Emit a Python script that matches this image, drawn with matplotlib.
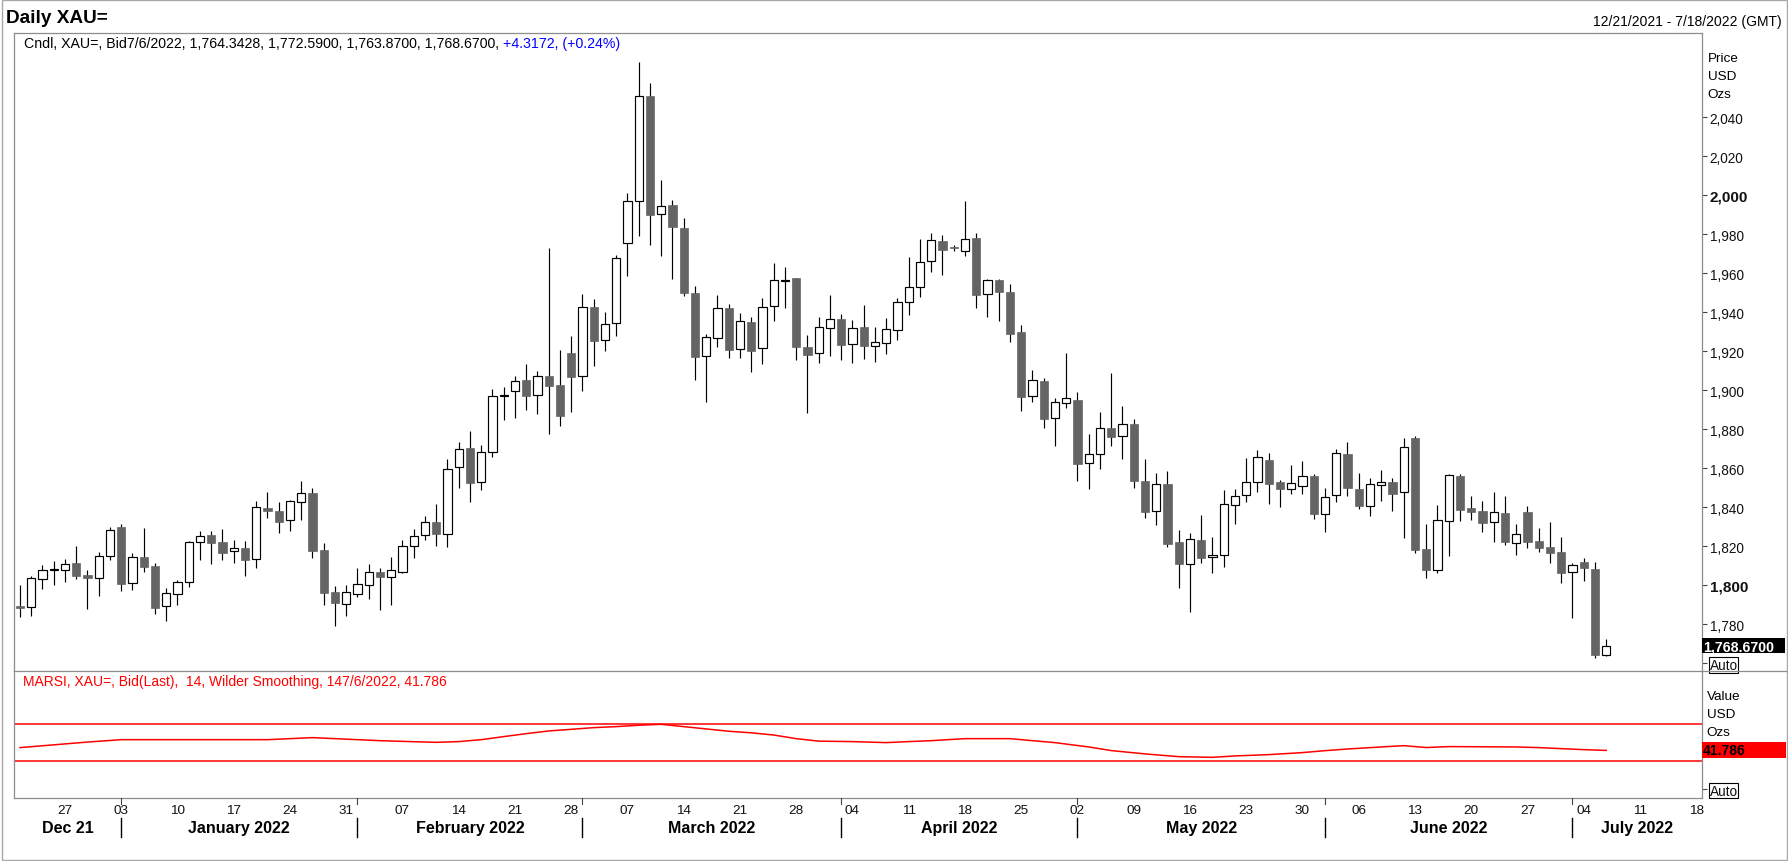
import matplotlib
matplotlib.use("Agg")
import matplotlib.pyplot as plt
import matplotlib.transforms as mtransforms
from matplotlib.patches import Rectangle
from matplotlib.lines import Line2D
import numpy as np
import pandas as pd

plt.rcParams["font.family"] = ["Liberation Sans", "DejaVu Sans"]

# trading days shown on the chart (Dec 21 2021 .. Jul 6 2022)
dates = pd.bdate_range("2021-12-21", "2022-07-06")

opens = [
    1789.6, 1788.7, 1803.1, 1808.0, 1807.7, 1811.5, 1805.3, 1803.6, 1814.9, 1829.9,
    1801.0, 1814.5, 1809.9, 1789.2, 1795.4, 1801.5, 1822.1, 1825.8, 1822.2, 1817.4,
    1819.1, 1813.3, 1839.5, 1838.1, 1833.7, 1842.6, 1847.4, 1818.1, 1796.6, 1790.6,
    1795.7, 1800.3, 1806.7, 1804.4, 1806.6, 1820.0, 1825.8, 1832.3, 1826.1, 1860.5,
    1870.2, 1852.8, 1868.2, 1897.0, 1899.4, 1905.1, 1897.4, 1907.2, 1902.7, 1919.1,
    1907.2, 1942.6, 1925.6, 1934.3, 1975.3, 1996.9, 2050.8, 1990.3, 1994.9, 1983.2,
    1949.9, 1917.4, 1926.6, 1942.0, 1921.0, 1935.0, 1921.5, 1943.1, 1956.2, 1957.6,
    1922.2, 1919.0, 1931.8, 1936.4, 1923.6, 1932.5, 1922.6, 1924.1, 1930.8, 1945.1,
    1952.8, 1966.1, 1976.5, 1973.2, 1971.3, 1977.9, 1949.2, 1956.5, 1950.3, 1929.7,
    1896.9, 1904.6, 1885.6, 1893.3, 1895.0, 1862.5, 1867.2, 1880.6, 1876.4, 1882.7,
    1853.5, 1837.9, 1851.9, 1822.0, 1810.7, 1823.0, 1814.3, 1815.7, 1841.0, 1846.1,
    1852.8, 1864.2, 1853.0, 1849.2, 1850.7, 1856.0, 1836.4, 1846.1, 1867.5, 1849.4,
    1840.5, 1851.3, 1853.0, 1847.6, 1875.5, 1818.6, 1808.0, 1832.8, 1856.0, 1839.6,
    1838.1, 1832.3, 1837.1, 1821.5, 1837.6, 1822.7, 1819.6, 1817.1, 1806.6, 1811.9,
    1808.4, 1764.3428,
]
highs = [
    1800.2, 1804.6, 1810.4, 1812.5, 1813.5, 1820.2, 1807.9, 1816.9, 1829.7, 1831.5,
    1816.6, 1829.4, 1811.5, 1798.8, 1802.7, 1822.9, 1827.9, 1827.9, 1828.9, 1823.2,
    1822.7, 1843.2, 1847.9, 1842.7, 1843.8, 1853.5, 1849.9, 1821.7, 1799.7, 1800.2,
    1808.9, 1810.9, 1809.1, 1814.4, 1823.2, 1828.9, 1835.6, 1841.7, 1864.8, 1873.3,
    1879.1, 1871.8, 1900.5, 1901.7, 1907.3, 1913.5, 1909.7, 1972.8, 1920.7, 1927.8,
    1949.2, 1946.6, 1940.0, 1969.2, 2001.2, 2068.4, 2057.4, 2007.9, 1997.6, 1988.4,
    1953.3, 1928.7, 1948.9, 1944.1, 1939.4, 1937.4, 1947.3, 1965.3, 1963.2, 1957.6,
    1928.4, 1937.4, 1948.9, 1939.1, 1936.1, 1943.7, 1932.5, 1936.9, 1947.3, 1968.4,
    1977.6, 1980.7, 1979.6, 1974.5, 1997.1, 1980.7, 1957.1, 1957.1, 1954.4, 1933.5,
    1910.2, 1906.1, 1895.9, 1919.1, 1899.1, 1877.6, 1888.7, 1908.9, 1891.9, 1885.3,
    1864.8, 1857.6, 1858.6, 1828.4, 1826.8, 1836.0, 1824.8, 1848.9, 1849.4, 1865.2,
    1869.4, 1867.8, 1854.0, 1861.7, 1863.7, 1857.1, 1849.9, 1869.9, 1873.5, 1857.6,
    1855.0, 1859.1, 1855.0, 1875.5, 1876.6, 1831.4, 1841.2, 1857.1, 1857.1, 1845.8,
    1843.2, 1847.8, 1845.8, 1831.4, 1840.7, 1829.4, 1832.5, 1824.8, 1811.3, 1814.0,
    1812.0, 1772.59,
]
lows = [
    1783.9, 1784.4, 1798.3, 1800.3, 1801.9, 1803.2, 1788.0, 1794.7, 1813.2, 1797.3,
    1797.8, 1807.0, 1785.3, 1781.9, 1790.1, 1799.3, 1813.2, 1811.1, 1813.2, 1811.6,
    1805.0, 1809.1, 1834.7, 1827.0, 1828.0, 1833.7, 1814.0, 1790.1, 1779.3, 1784.4,
    1794.2, 1793.0, 1787.4, 1790.1, 1806.3, 1814.2, 1823.4, 1820.3, 1819.8, 1849.7,
    1842.9, 1849.0, 1866.0, 1884.8, 1885.8, 1890.1, 1888.0, 1877.8, 1881.9, 1889.0,
    1899.6, 1912.6, 1920.3, 1928.0, 1958.8, 1979.3, 1974.7, 1969.0, 1957.2, 1948.5,
    1905.4, 1894.2, 1922.4, 1916.7, 1916.7, 1909.5, 1913.7, 1935.7, 1942.4, 1915.7,
    1888.5, 1914.2, 1917.8, 1915.7, 1914.0, 1916.1, 1914.3, 1918.8, 1926.0, 1938.8,
    1948.0, 1960.8, 1959.1, 1971.6, 1969.1, 1942.4, 1937.8, 1935.7, 1925.0, 1889.6,
    1894.2, 1880.5, 1871.3, 1891.1, 1853.7, 1849.5, 1859.6, 1871.6, 1864.9, 1850.0,
    1834.7, 1831.1, 1819.8, 1798.8, 1786.5, 1811.6, 1806.5, 1809.6, 1831.6, 1842.9,
    1848.0, 1841.9, 1840.3, 1847.0, 1846.8, 1834.2, 1827.5, 1842.9, 1845.9, 1839.3,
    1835.7, 1843.4, 1838.3, 1824.4, 1816.5, 1803.9, 1806.3, 1815.2, 1833.1, 1833.6,
    1827.5, 1822.4, 1820.8, 1815.7, 1819.3, 1817.2, 1811.6, 1801.4, 1783.4, 1802.4,
    1762.9, 1763.87,
]
closes = [
    1788.2, 1803.8, 1807.7, 1808.4, 1810.8, 1805.0, 1803.6, 1814.9, 1828.4, 1800.9,
    1814.4, 1809.6, 1788.5, 1795.9, 1801.5, 1822.2, 1825.1, 1821.9, 1816.8, 1819.1,
    1813.2, 1840.0, 1837.9, 1832.6, 1843.1, 1847.2, 1817.8, 1796.1, 1790.9, 1796.4,
    1800.5, 1806.7, 1804.4, 1807.9, 1820.0, 1825.1, 1832.3, 1826.5, 1859.4, 1869.7,
    1852.6, 1868.2, 1896.9, 1897.4, 1904.9, 1897.2, 1907.2, 1902.4, 1887.0, 1907.0,
    1942.6, 1925.5, 1934.2, 1967.6, 1996.9, 2050.8, 1990.1, 1994.7, 1983.9, 1950.1,
    1917.2, 1927.1, 1942.0, 1920.5, 1935.4, 1920.3, 1942.5, 1956.4, 1956.6, 1922.4,
    1918.2, 1932.3, 1936.4, 1923.4, 1931.8, 1922.9, 1924.6, 1931.3, 1945.1, 1952.8,
    1965.6, 1976.9, 1972.1, 1973.0, 1977.4, 1949.0, 1956.4, 1950.6, 1929.1, 1896.7,
    1905.1, 1885.5, 1893.8, 1895.9, 1862.4, 1867.2, 1880.5, 1876.2, 1882.5, 1853.6,
    1837.8, 1851.8, 1821.3, 1811.1, 1823.6, 1814.2, 1815.4, 1841.5, 1845.6, 1852.8,
    1865.6, 1852.1, 1849.5, 1852.3, 1855.9, 1836.5, 1845.1, 1867.8, 1849.9, 1840.8,
    1851.8, 1852.8, 1847.0, 1870.7, 1818.3, 1808.0, 1833.3, 1856.4, 1838.7, 1837.8,
    1832.1, 1837.4, 1822.4, 1826.1, 1822.4, 1819.3, 1816.7, 1806.5, 1810.2, 1809.0,
    1764.4, 1768.67,
]

# MARSI readings (trading-day index, value)
rsi_idx = [0, 2, 4, 6, 9, 22, 24, 26, 28, 30, 32, 35, 37, 39, 41, 43, 45, 47, 49, 51,
           53, 55, 57, 59, 61, 63, 65, 67, 69, 71, 74, 77, 79, 81, 84, 88, 90, 92, 95,
           97, 100, 103, 106, 108, 111, 114, 116, 118, 121, 123, 125, 127, 133, 135,
           137, 139, 141]
rsi_val = [44.8, 46.8, 48.8, 50.8, 53.4, 53.4, 54.5, 55.6, 54.5, 53.4, 52.3, 51.2, 50.5,
           51.3, 53.4, 56.7, 59.9, 62.8, 64.6, 66.4, 67.5, 69.0, 70.0, 67.5, 65.0, 62.5,
           60.8, 58.4, 54.5, 51.8, 51.3, 50.2, 51.3, 52.3, 54.5, 54.5, 52.3, 50.2, 45.5,
           41.6, 38.0, 35.0, 34.3, 35.8, 37.2, 39.4, 41.5, 43.3, 45.5, 46.9, 44.9, 45.9,
           45.5, 44.8, 43.7, 42.6, 41.786]

price_ticks = [1780, 1800, 1820, 1840, 1860, 1880, 1900, 1920, 1940, 1960, 1980, 2000, 2020, 2040]

W, H = 1788, 862


def fx(px):
    return px / W


def fy(py):
    return 1 - py / H


fig = plt.figure(figsize=(W / 100, H / 100), dpi=100)
fig.patch.set_facecolor("white")

left, right = 13.7, 1701.5
ax = fig.add_axes([fx(left), fy(671.5), fx(right) - fx(left), fy(33.5) - fy(671.5)])
ax2 = fig.add_axes([fx(left), fy(799), fx(right) - fx(left), fy(671.5) - fy(799)])

frame = "#8c8c8c"
n = len(dates)
x = np.arange(n)
o = np.array(opens)
h = np.array(highs)
lo = np.array(lows)
c = np.array(closes)

# candles
ax.vlines(x, lo, h, color="black", lw=0.85, zorder=2)
up = c >= o
bot = np.minimum(o, c)
hgt = np.maximum(np.abs(c - o), 0.5)
ax.bar(x[up], hgt[up], bottom=bot[up], width=0.72, facecolor="white",
       edgecolor="black", lw=0.85, zorder=3)
ax.bar(x[~up], hgt[~up], bottom=bot[~up], width=0.72, facecolor="#646464",
       edgecolor="#646464", lw=0.5, zorder=3)

xmin, xmax = -0.56, 149.47
ax.set_xlim(xmin, xmax)
ax.set_ylim(1756.3, 2083.5)
ax.set_xticks([])
ax.yaxis.tick_right()
ax.set_yticks(price_ticks + [1760])
ax.set_yticklabels([f"{t:,}" for t in price_ticks] + ["Auto"])
ax.tick_params(axis="y", length=4.7 * 0.72, width=0.8, color="#444444", pad=2.4,
               labelsize=9.8, labelcolor="#111111")
for lab, t in zip(ax.get_yticklabels(), price_ticks + [1760]):
    if t in (1800, 2000):
        lab.set_fontweight("bold")
        lab.set_fontsize(11)
    if t == 1760:
        lab.set_bbox(dict(facecolor="white", edgecolor="black", pad=0.6, lw=0.8))
for s in ["top", "left", "right"]:
    ax.spines[s].set_color(frame)
    ax.spines[s].set_linewidth(0.9)
ax.spines["bottom"].set_visible(False)

# RSI panel
ax2.plot(rsi_idx, rsi_val, color="red", lw=1.1)
ax2.axhline(70, color="red", lw=1.1)
ax2.axhline(30, color="red", lw=1.1)
ax2.set_xlim(xmin, xmax)
ax2.set_ylim(-9.7, 128.2)
ax2.set_xticks([])
ax2.yaxis.tick_right()
ax2.set_yticks([0])
ax2.set_yticklabels(["Auto"])
ax2.tick_params(axis="y", length=4.7 * 0.72, width=0.8, color="#444444", pad=2.4,
                labelsize=9.8, labelcolor="#111111")
ax2.get_yticklabels()[0].set_bbox(dict(facecolor="white", edgecolor="black", pad=0.6, lw=0.8))
for s in ["bottom", "left", "right"]:
    ax2.spines[s].set_color(frame)
    ax2.spines[s].set_linewidth(0.9)
ax2.spines["top"].set_visible(False)

# separator between panels and outer frame
fig.add_artist(Line2D([fx(left), fx(1786)], [fy(671.5), fy(671.5)], color=frame, lw=0.9))
fig.add_artist(Rectangle((fx(1.5), fy(860.5)), fx(1785), fy(1) - fy(860.5),
                         fill=False, edgecolor="#a8a8a8", lw=1.0))

# header texts
fig.text(fx(6), fy(18.5), "Daily XAU=", fontsize=13.7, fontweight="bold", va="center", ha="left")
fig.text(fx(1781.7), fy(21.7), "12/21/2021 - 7/18/2022 (GMT)", fontsize=10, va="center", ha="right")
t1 = fig.text(fx(23.7), fy(44), "Cndl, XAU=, Bid7/6/2022, 1,764.3428, 1,772.5900, "
              "1,763.8700, 1,768.6700, ", fontsize=10.2, va="center", ha="left")
renderer = fig.canvas.get_renderer()
bb = t1.get_window_extent(renderer)
fig.text(bb.x1 / W, fy(44), "+4.3172, (+0.24%)", fontsize=10.2, va="center", ha="left",
         color="#0000ff")
fig.text(fx(23), fy(682), "MARSI, XAU=, Bid(Last),  14, Wilder Smoothing, 147/6/2022, 41.786",
         fontsize=10, va="center", ha="left", color="red")

for txt, py in zip(["Price", "USD", "Ozs"], [59.5, 77.5, 95.5]):
    fig.text(fx(1707.7), fy(py), txt, fontsize=9.7, va="center", ha="left")
for txt, py in zip(["Value", "USD", "Ozs"], [697.5, 715.5, 733.5]):
    fig.text(fx(1706.7), fy(py), txt, fontsize=9.7, va="center", ha="left")

# last value boxes
fig.add_artist(Rectangle((fx(1702), fy(654.3)), fx(1785) - fx(1702), fy(639.3) - fy(654.3),
                         facecolor="black", edgecolor="none"))
fig.text(fx(1703), fy(647), f"{closes[-1]:,.4f}", fontsize=10.2, fontweight="bold",
         color="white", va="center", ha="left")
fig.add_artist(Rectangle((fx(1702), fy(758.7)), fx(1786) - fx(1702), fy(743.3) - fy(758.7),
                         facecolor="red", edgecolor="none"))
fig.text(fx(1703), fy(751), f"{rsi_val[-1]:.3f}", fontsize=10, fontweight="bold",
         color="black", va="center", ha="left")

# date axis
trans = mtransforms.blended_transform_factory(ax2.transData, fig.transFigure)
all_days = pd.bdate_range("2021-12-21", "2022-07-18")
day_pos = {d: i for i, d in enumerate(all_days)}
for d, i in day_pos.items():
    if d.weekday() == 0:
        fig.text(i, fy(811), d.strftime("%d"), transform=trans, fontsize=9.7,
                 ha="center", va="center", color="#111111")

month_starts = [i for i, d in enumerate(all_days) if i > 0 and d.month != all_days[i - 1].month]
bounds = [xmin] + month_starts + [xmax]
month_names = ["Dec 21", "January 2022", "February 2022", "March 2022", "April 2022",
               "May 2022", "June 2022", "July 2022"]
for k, name in enumerate(month_names):
    mid = (bounds[k] + bounds[k + 1]) / 2
    fig.text(mid, fy(829), name, transform=trans, fontsize=11.5, fontweight="bold",
             ha="center", va="center")
for m in month_starts:
    fig.add_artist(Line2D([m, m], [fy(819), fy(838)], transform=trans, color="black", lw=1.0))
    fig.add_artist(Line2D([m, m], [fy(799), fy(805)], transform=trans, color="#444444", lw=0.8))

fig.savefig("out.png", dpi=100, facecolor="white")
